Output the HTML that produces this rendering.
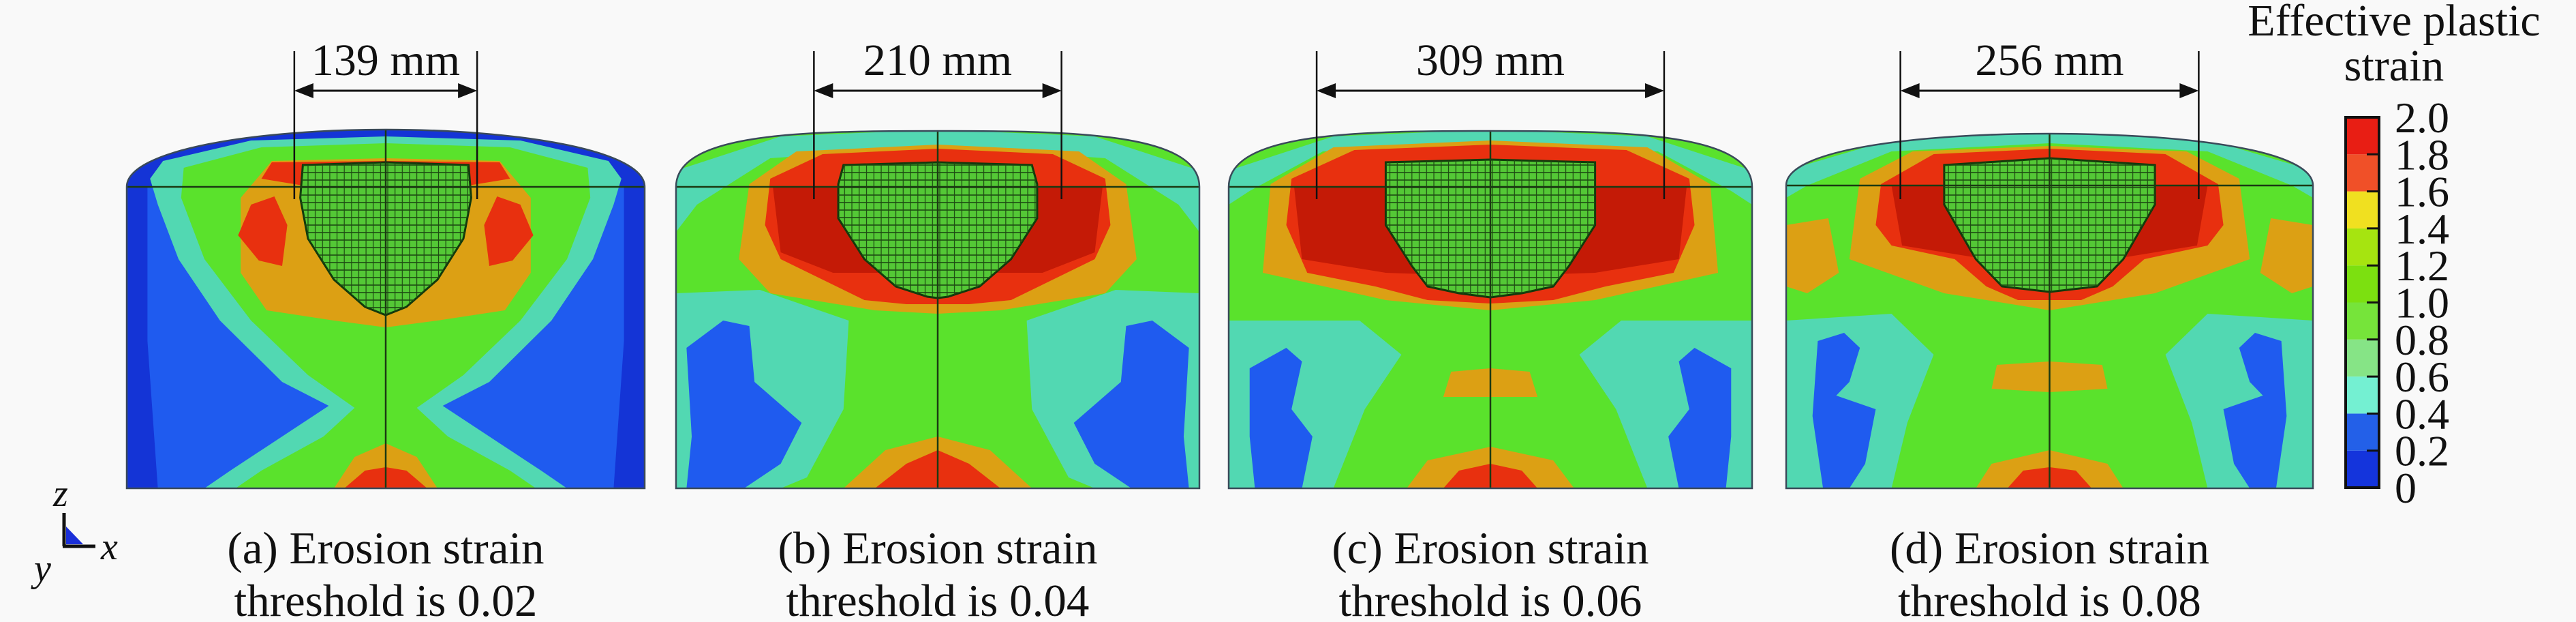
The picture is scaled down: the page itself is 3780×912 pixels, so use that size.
<!DOCTYPE html>
<html><head><meta charset="utf-8"><style>
html,body{margin:0;padding:0;background:#f9f9f9;}
svg{display:block;}
svg text{font-family:"Liberation Serif","Times New Roman",serif;fill:#111;}
</style></head>
<body>
<svg id="fig" width="3780" height="912" viewBox="0 0 3780 912" xmlns="http://www.w3.org/2000/svg" font-family="'Liberation Serif', 'Times New Roman', serif">
<defs>
<pattern id="mesh" width="14" height="11" patternUnits="userSpaceOnUse">
<rect width="14" height="11" fill="none" stroke="#1d4a12" stroke-width="1.6"/>
</pattern>
</defs>
<rect width="3780" height="912" fill="#f9f9f9"/>
<g id="panels"></g>
<g id="legend"></g>
<g id="triad">
<line x1="94" y1="752" x2="94" y2="801" stroke="#111" stroke-width="5"/>
<line x1="92" y1="801" x2="140" y2="801" stroke="#111" stroke-width="5"/>
<polygon points="97,772 97,798 122,798" fill="#1a2fd8"/>
<text x="78" y="742" font-size="56" font-style="italic" font-family="'Liberation Serif', serif">z</text>
<text x="148" y="820" font-size="56" font-style="italic" font-family="'Liberation Serif', serif">x</text>
<text x="50" y="852" font-size="56" font-style="italic" font-family="'Liberation Serif', serif">y</text>
</g>
</svg>
<script>
const NS='http://www.w3.org/2000/svg';
const FONT="'Liberation Serif', 'Times New Roman', serif";
// ---- data ----
const panelIds=['a','b','c','d'];
const thresholds=['0.02','0.04','0.06','0.08'];
const craterMM=[139,210,309,256];
const legendTicks=[0,0.2,0.4,0.6,0.8,1.0,1.2,1.4,1.6,1.8,2.0];
const legendLabels=['0','0.2','0.4','0.6','0.8','1.0','1.2','1.4','1.6','1.8','2.0'];
const bandColors=['#1434dc','#2360e8','#74f0d2','#86e486','#76e43a','#7ce010','#a6e410','#f0e020','#f05028','#e81e14'];
// ---- layout ----
const PL=[186,992,1803,2621], PR=[946,1760,2571,3394], PT=[190,192,192,196], PF=[274,274,274,272], PB=716;
const mmScale=[1.93,1.73,1.65,1.71];
const domeK=[0.35,0.02,0.02,0.3];
const C={blue:'#1f5bef',dblue:'#1434d6',teal:'#52d8b2',green:'#5ae22c',orange:'#dca014',red:'#e8300f',dred:'#c41a06',mesh:'#54c836'};
const L={
a:[['base','dblue'],
 ['pair','blue',[[40,274],[120,274],[200,380],[330,520],[420,600],[330,660],[220,716],[60,716],[40,500]]],
 ['sym','teal',[[500,200],[760,206],[930,236],[955,262],[940,300],[900,380],[820,470],[700,560],[610,595],[700,640],[800,690],[850,716],[500,716]]],
 ['sym','green',[[500,210],[740,216],[890,246],[895,290],[850,380],[760,470],[650,550],[560,598],[620,640],[740,690],[790,716],[500,716]]],
 ['sym','orange',[[500,232],[720,236],[780,290],[780,400],[730,455],[600,470],[500,480]]],
 ['sym','red',[[500,236],[720,238],[740,262],[660,272],[500,268]]],
 ['pair','red',[[240,300],[285,288],[310,330],[300,390],[255,382],[215,345]]],
 ['sym','orange',[[500,650],[560,670],[600,716],[500,716]]],
 ['sym','red',[[500,685],[540,690],[580,716],[500,716]]],
 ['mesh',[[500,238],[660,242],[665,290],[650,350],[600,410],[540,450],[500,462]]]],
b:[['base','green'],
 ['sym','teal',[[500,190],[800,200],[1000,250],[1000,340],[960,300],[820,232],[500,214]]],
 ['pair','teal',[[0,430],[160,425],[330,470],[320,600],[250,700],[200,716],[0,716]]],
 ['pair','blue',[[20,510],[90,470],[140,478],[150,560],[240,620],[200,680],[130,716],[20,716],[30,640]]],
 ['sym','orange',[[500,212],[770,222],[860,270],[880,380],[820,430],[620,455],[500,460]]],
 ['sym','red',[[500,218],[720,226],[820,262],[830,330],[800,380],[720,410],[640,440],[560,446],[500,446]]],
 ['sym','dred',[[500,274],[815,274],[800,370],[700,400],[500,400]]],
 ['sym','orange',[[500,640],[600,660],[680,716],[500,716]]],
 ['sym','red',[[500,660],[560,680],[620,716],[500,716]]],
 ['mesh',[[500,238],[680,242],[690,270],[690,320],[640,380],[580,420],[520,435],[500,437]]]],
c:[['base','green'],
 ['sym','teal',[[500,190],[800,200],[1000,250],[1000,300],[960,280],[820,222],[500,206]]],
 ['pair','teal',[[0,470],[250,470],[330,520],[260,600],[200,716],[0,716]]],
 ['pair','blue',[[40,540],[110,510],[140,530],[120,600],[160,640],[140,716],[50,716],[40,640]]],
 ['sym','orange',[[500,206],[800,216],[920,270],[935,400],[700,440],[500,455]]],
 ['sym','red',[[500,212],[760,220],[880,262],[890,330],[850,400],[720,420],[620,440],[500,445]]],
 ['sym','dred',[[500,274],[875,274],[860,380],[700,400],[500,405]]],
 ['sym','orange',[[500,540],[575,545],[590,582],[500,582]]],
 ['sym','orange',[[500,655],[620,675],[660,716],[500,716]]],
 ['sym','red',[[500,680],[560,690],[590,716],[500,716]]],
 ['mesh',[[500,234],[700,238],[700,330],[650,390],[620,420],[560,430],[500,436]]]],
d:[['base','green'],
 ['sym','teal',[[500,192],[780,200],[1000,250],[1000,290],[960,272],[800,222],[500,210]]],
 ['pair','teal',[[0,470],[200,460],[280,520],[230,620],[200,716],[0,716]]],
 ['pair','blue',[[60,500],[110,488],[140,510],[120,560],[95,580],[170,600],[150,680],[120,716],[70,716],[50,610]]],
 ['sym','orange',[[500,214],[760,222],[860,262],[880,380],[700,430],[500,455]]],
 ['pair','orange',[[0,330],[80,320],[100,400],[40,430],[0,420]]],
 ['sym','red',[[500,218],[720,226],[820,270],[830,330],[800,360],[680,380],[620,420],[560,440],[500,440]]],
 ['sym','dred',[[500,272],[800,272],[780,360],[620,380],[500,390]]],
 ['sym','orange',[[500,530],[600,535],[610,570],[500,575]]],
 ['sym','orange',[[500,660],[610,680],[640,716],[500,716]]],
 ['sym','red',[[500,685],[550,690],[580,716],[500,716]]],
 ['mesh',[[500,232],[700,242],[700,300],[640,380],[590,420],[500,428]]]]
};
function el(tag,attrs,parent){const e=document.createElementNS(NS,tag);for(const k in attrs)e.setAttribute(k,attrs[k]);if(parent)parent.appendChild(e);return e;}
function symPts(pts){const r=pts.map(p=>p[0]+','+p[1]);const l=pts.slice().reverse().map(p=>(1000-p[0])+','+p[1]);return r.concat(l).join(' ');}
const panelsG=document.getElementById('panels');
panelIds.forEach((id,i)=>{
 const Lx=PL[i],Rx=PR[i],T=PT[i],F=PF[i],W=Rx-Lx;
 const g=el('g',{},panelsG);
 
 
 const k=(F-T)*domeK[i];
 const dome=`M0,${PB} L0,${F} C0,${T+k} 250,${T} 500,${T} C750,${T} 1000,${T+k} 1000,${F} L1000,${PB} Z`;
 const cp=el('clipPath',{id:'clip'+id},g);
 el('path',{d:dome},cp);
 const inner=el('g',{transform:`translate(${Lx},0) scale(${W/1000},1)`},g);
 const body=el('g',{'clip-path':`url(#clip${id})`},inner);
 
 
 L[id].forEach(ly=>{
  if(ly[0]==='base'){el('rect',{x:0,y:T-10,width:1000,height:PB-T+10,fill:C[ly[1]]},body);}
  else if(ly[0]==='sym'){el('polygon',{points:symPts(ly[2]),fill:C[ly[1]]},body);}
  else if(ly[0]==='pair'){
   el('polygon',{points:ly[2].map(p=>p[0]+','+p[1]).join(' '),fill:C[ly[1]]},body);
   el('polygon',{points:ly[2].map(p=>(1000-p[0])+','+p[1]).join(' '),fill:C[ly[1]]},body);
  } else if(ly[0]==='mesh'){
   const m=el('polygon',{points:symPts(ly[1]),fill:C.mesh,stroke:'#123a0c','stroke-width':3,'vector-effect':'non-scaling-stroke'},body);
   
   
   el('polygon',{points:symPts(ly[1]),fill:'url(#mesh)'},body);
  }
 });
 el('line',{x1:500,y1:T,x2:500,y2:PB,stroke:'#1b3a12','stroke-width':2.5,'vector-effect':'non-scaling-stroke'},body);
 el('line',{x1:0,y1:F,x2:1000,y2:F,stroke:'#1b3a12','stroke-width':2.5,'vector-effect':'non-scaling-stroke'},body);
 el('path',{d:dome,fill:'none',stroke:'#3a4a5a','stroke-width':2.5,'vector-effect':'non-scaling-stroke'},inner);
 // dimension
 const cx=Lx+W/2, half=craterMM[i]*mmScale[i]/2, x1=cx-half, x2=cx+half;
 const dim=el('g',{},g);
 
 
 el('line',{x1:x1,y1:75,x2:x1,y2:292,stroke:'#111','stroke-width':2.5},dim);
 el('line',{x1:x2,y1:75,x2:x2,y2:292,stroke:'#111','stroke-width':2.5},dim);
 el('line',{x1:x1+20,y1:133,x2:x2-20,y2:133,stroke:'#111','stroke-width':3},dim);
 el('polygon',{points:`${x1},133 ${x1+28},122 ${x1+28},144`,fill:'#111'},dim);
 el('polygon',{points:`${x2},133 ${x2-28},122 ${x2-28},144`,fill:'#111'},dim);
 const t=el('text',{x:cx,y:110,'font-size':66,'text-anchor':'middle','font-family':FONT},dim);
 t.textContent=craterMM[i]+' mm';
 
 
 const c1=el('text',{x:cx,y:826,'font-size':67,'text-anchor':'middle','font-family':FONT},g);
 c1.textContent='('+id+') Erosion strain';
 
 
 const c2=el('text',{x:cx,y:903,'font-size':67,'text-anchor':'middle','font-family':FONT},g);
 c2.textContent='threshold is '+thresholds[i];
 
 
});
// legend
const lg=document.getElementById('legend');
const bx=3442,bw=49,by0=715,by1=172;
const yS=v=>by0-(v-legendTicks[0])/(legendTicks[legendTicks.length-1]-legendTicks[0])*(by0-by1);
bandColors.forEach((c,i)=>{
 const r=el('rect',{x:bx,y:yS(legendTicks[i+1]),width:bw,height:yS(legendTicks[i])-yS(legendTicks[i+1]),fill:c},lg);
 
 
});
el('rect',{x:bx,y:by1,width:bw,height:by0-by1,fill:'none',stroke:'#111','stroke-width':4},lg);
legendTicks.forEach((v,i)=>{
 if(i>0&&i<legendTicks.length-1){
  const tk=el('line',{x1:bx+bw-18,y1:yS(v),x2:bx+bw,y2:yS(v),stroke:'#111','stroke-width':3},lg);
  
  
 }
 const t=el('text',{x:3514,y:yS(v)+22,'font-size':64,'font-family':FONT},lg);
 t.textContent=legendLabels[i];
 
 
});
const lt1=el('text',{x:3513,y:52,'font-size':66,'text-anchor':'middle','font-family':FONT},lg);
lt1.textContent='Effective plastic';


const lt2=el('text',{x:3513,y:118,'font-size':66,'text-anchor':'middle','font-family':FONT},lg);
lt2.textContent='strain';


</script>
</body></html>
